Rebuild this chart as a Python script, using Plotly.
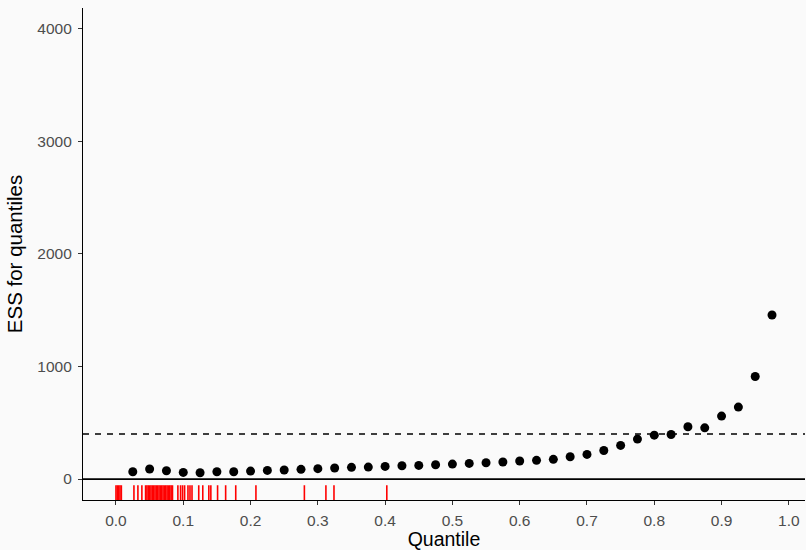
import plotly.graph_objects as go

# Quantile ESS values
quantiles = [0.025, 0.05, 0.075, 0.1, 0.125, 0.15, 0.175, 0.2, 0.225, 0.25,
             0.275, 0.3, 0.325, 0.35, 0.375, 0.4, 0.425, 0.45, 0.475, 0.5,
             0.525, 0.55, 0.575, 0.6, 0.625, 0.65, 0.675, 0.7, 0.725, 0.75,
             0.775, 0.8, 0.825, 0.85, 0.875, 0.9, 0.925, 0.95, 0.975]
ess_values = [65, 89, 74, 59, 56, 65, 65, 71, 77, 80,
              86, 92, 98, 104, 106, 112, 118, 121, 127, 133,
              139, 145, 151, 160, 166, 175, 198, 219, 254, 299,
              355, 390, 396, 464, 455, 559, 639, 911, 1457]

# Rug positions (ranks of draws)
rug_positions = [0.000, 0.002, 0.004, 0.006, 0.008, 0.0267, 0.0326, 0.0385,
                 0.044, 0.046, 0.048, 0.050, 0.052, 0.054, 0.056, 0.058, 0.060,
                 0.062, 0.064, 0.066, 0.068, 0.070, 0.072, 0.074, 0.076, 0.078,
                 0.080, 0.082, 0.084, 0.092, 0.096, 0.099, 0.102, 0.107, 0.110,
                 0.113, 0.123, 0.129, 0.138, 0.141, 0.151, 0.163, 0.178, 0.208,
                 0.280, 0.312, 0.324, 0.4025]

threshold = 400
zero_line = 0

x_ticks = [0.0, 0.1, 0.2, 0.3, 0.4, 0.5, 0.6, 0.7, 0.8, 0.9, 1.0]
y_ticks = [0, 1000, 2000, 3000, 4000]

bg = "#FAFAFA"
tick_color = "#4D4D4D"
font_family = "Liberation Sans, Arial, sans-serif"

fig = go.Figure()

fig.add_trace(go.Scatter(
    x=quantiles, y=ess_values, mode="markers",
    marker=dict(color="black", size=9, line=dict(width=0)),
    showlegend=False, hoverinfo="x+y",
))

shapes = []
for r in rug_positions:
    shapes.append(dict(type="line", xref="x", yref="y domain",
                       x0=r, x1=r, y0=0, y1=0.03,
                       line=dict(color="red", width=1.6), layer="above"))
fig.update_layout(shapes=shapes)

fig.add_hline(y=zero_line, line=dict(color="black", width=1.8), layer="below")
fig.add_hline(y=threshold, line=dict(color="black", width=1.5, dash="6px,6px"), layer="below")

fig.update_layout(
    width=806, height=550,
    paper_bgcolor=bg, plot_bgcolor=bg,
    margin=dict(l=83, r=1, t=8, b=50, autoexpand=False),
    font=dict(family=font_family, color="black"),
    xaxis=dict(
        range=[-0.049, 1.024], automargin=False,
        tickvals=x_ticks, ticktext=[f"{v:.1f}" for v in x_ticks],
        showgrid=False, zeroline=False,
        showline=True, linecolor="black", linewidth=1.3,
        ticks="outside", ticklen=4, tickcolor="#333333", tickwidth=1,
        ticklabelstandoff=2,
        tickfont=dict(size=15.5, color=tick_color, family=font_family),
        title=dict(text="Quantile", font=dict(size=19.5, color="black"), standoff=3),
    ),
    yaxis=dict(
        range=[-186, 4183], automargin=False,
        tickvals=y_ticks, ticktext=[str(v) for v in y_ticks],
        showgrid=False, zeroline=False,
        showline=True, linecolor="black", linewidth=1.3,
        ticks="outside", ticklen=4, tickcolor="#333333", tickwidth=1,
        ticklabelstandoff=3,
        tickfont=dict(size=15.5, color=tick_color, family=font_family),
        title=dict(text="ESS for quantiles", font=dict(size=20.5, color="black"), standoff=9),
    ),
)

fig.write_html(
    "out.html",
    config={"displayModeBar": False},
    post_script="document.body.style.margin='0';document.body.style.background='#FAFAFA';",
)
